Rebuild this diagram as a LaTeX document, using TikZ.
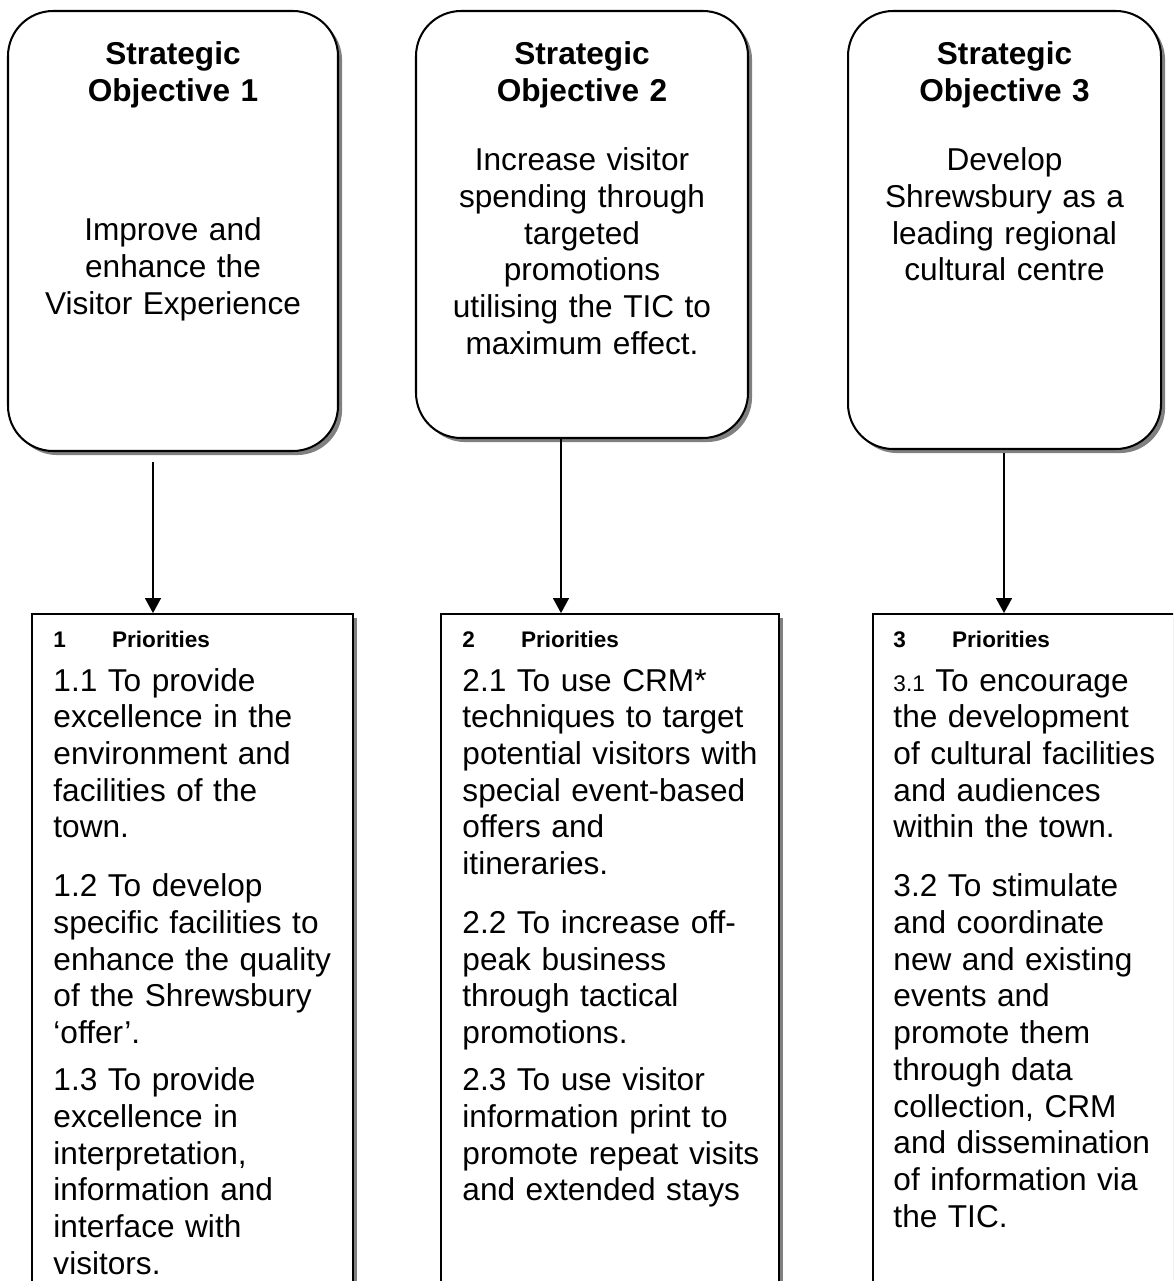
\documentclass[tikz,border=0pt]{standalone}
\usepackage{fontspec}
\setmainfont{Liberation Sans}
\usetikzlibrary{arrows.meta,shadows}

\begin{document}
\begin{tikzpicture}[x=0.443pt, y=-0.443pt,
  shade/.style={drop shadow={shadow xshift=1.8pt, shadow yshift=-1.8pt, fill=black!50, opacity=1}},
  objbox/.style={draw, line width=0.9pt, rounded corners=20pt, fill=white, shade},
  pribox/.style={draw, line width=0.8pt, fill=white, shade},
  objtext/.style={anchor=base, inner sep=0pt, text width=135pt, align=center, font=\fontsize{14pt}{16.26pt}\selectfont},
  pritext/.style={anchor=base west, inner sep=0pt, text width=140pt, align=left, font=\fontsize{14pt}{16.26pt}\selectfont},
  prihead/.style={anchor=base west, inner sep=0pt, font=\fontsize{10pt}{12pt}\selectfont\bfseries},
  link/.style={-{Triangle[width=7pt,length=6.6pt]}, line width=0.7pt}]

\def \px {0.443pt}
\def \gapone {9.9pt}
\def \gaptwo {4.6pt}

\useasboundingbox (0,0) rectangle (1173,1281);
\clip (0,0) rectangle (1173,1281);

% strategic objectives
\node (obj1) [objbox, minimum width=330*\px, minimum height=440*\px] at (173,231) {};
\node (obj2) [objbox, minimum width=332*\px, minimum height=427*\px] at (582,224.5) {};
\node (obj3) [objbox, minimum width=313*\px, minimum height=438*\px] at (1004.5,230) {};

\node (obj1txt) [objtext] at (173,65) {{\bfseries Strategic\\Objective 1}\\[45.3pt]
  Improve and\\enhance the\\Visitor Experience};
\node (obj2txt) [objtext] at (582,65) {{\bfseries Strategic\\Objective 2}\\[14.3pt]
  Increase visitor\\spending through\\targeted\\promotions\\utilising the TIC to\\maximum effect.};
\node (obj3txt) [objtext] at (1004.5,65) {{\bfseries Strategic\\Objective 3}\\[14.3pt]
  Develop\\Shrewsbury as a\\leading regional\\cultural centre};

% priorities
\node (pri1) [pribox, minimum width=321*\px, minimum height=716*\px] at (192.5,972) {};
\node (pri2) [pribox, minimum width=338*\px, minimum height=716*\px] at (610,972) {};
\node (pri3) [pribox, minimum width=314*\px, minimum height=716*\px] at (1030,972) {};

\node (pri1head) [prihead] at (53,647) {\makebox[26pt][l]{1}Priorities};
\node (pri2head) [prihead] at (462,647) {\makebox[26pt][l]{2}Priorities};
\node (pri3head) [prihead] at (893,647) {\makebox[26pt][l]{3}Priorities};

\node (pri1txt) [pritext] at (53,691) {1.1 To provide\\excellence in the\\environment and\\facilities of the\\town.\\[\gapone]
  1.2 To develop\\specific facilities to\\enhance the quality\\of the Shrewsbury\\‘offer’.\\[\gaptwo]
  1.3 To provide\\excellence in\\interpretation,\\information and\\interface with\\visitors.};
\node (pri2txt) [pritext] at (462,691) {2.1 To use CRM*\\techniques to target\\potential visitors with\\special event-based\\offers and\\itineraries.\\[\gapone]
  2.2 To increase off-\\peak business\\through tactical\\promotions.\\[\gaptwo]
  2.3 To use visitor\\information print to\\promote repeat visits\\and extended stays};
\node (pri3txt) [pritext] at (893,691) {{\fontsize{10pt}{12pt}\selectfont 3.1} To encourage\\the development\\of cultural facilities\\and audiences\\within the town.\\[\gapone]
  3.2 To stimulate\\and coordinate\\new and existing\\events and\\promote them\\through data\\collection, CRM\\and dissemination\\of information via\\the TIC.};

% arrows
\coordinate (s1) at (153,462);
\coordinate (s2) at (561,438);
\coordinate (s3) at (1004,453);

\foreach \i in {1,2,3}
{
  \draw[link] (s\i) -- (s\i |- pri\i.north);
}

\end{tikzpicture}
\end{document}
